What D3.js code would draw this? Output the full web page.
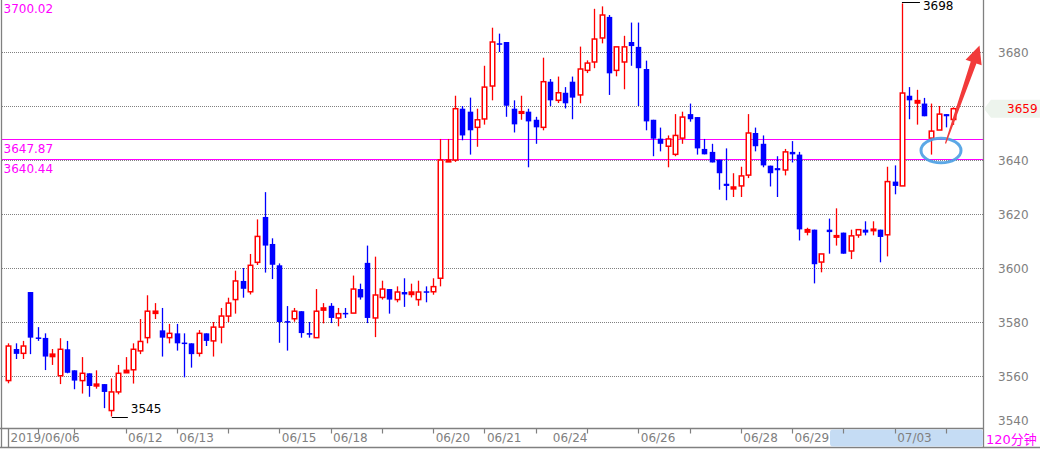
<!DOCTYPE html>
<html><head><meta charset="utf-8">
<script src="https://cdn.jsdelivr.net/npm/d3@7/dist/d3.min.js"></script>
<style>
html,body{margin:0;padding:0;background:#fff;}
svg{display:block;}
text{font-family:"DejaVu Sans","Noto Sans CJK SC",sans-serif;}
</style></head>
<body>
<svg id="c" width="1040" height="449"></svg>
<script>
// ---- data ----
const openV = [3558.3,3570.0,3568.4,3591.1,3574.2,3574.1,3567.2,3560.1,3569.9,3562.1,
3558.3,3561.0,3556.3,3557.0,3547.2,3554.1,3561.2,3562.3,3569.3,3574.2,
3583.2,3576.9,3574.2,3575.8,3572.2,3572.1,3568.4,3575.8,3573.0,3578.1,
3582.2,3588.3,3595.2,3591.2,3602.1,3618.9,3608.9,3601.0,3580.1,3581.2,
3584.0,3575.9,3574.2,3584.4,3586.0,3581.5,3583.2,3583.3,3592.2,3601.9,
3581.5,3589.1,3592.2,3588.3,3591.1,3590.2,3588.3,3591.2,3591.2,3596.2,
3639.3,3640.0,3659.0,3657.9,3652.1,3655.2,3667.4,3683.0,3683.7,3659.0,
3657.3,3657.9,3654.9,3652.1,3669.0,3662.1,3664.9,3669.0,3664.1,3673.2,
3676.3,3685.2,3693.0,3673.2,3676.3,3683.7,3681.9,3673.7,3654.9,3647.9,
3645.1,3642.1,3648.1,3657.0,3655.9,3644.1,3643.0,3640.1,3631.2,3629.3,
3630.4,3634.4,3650.0,3646.0,3637.9,3637.0,3636.3,3643.0,3642.0,3613.3,
3614.2,3602.2,3614.2,3611.5,3613.1,3606.3,3612.2,3614.2,3614.0,3614.2,
3612.3,3632.0,3630.4,3663.8,3661.1,3660.9,3648.1,3651.1,3657.0,3655.0];
const highV = [3572.1,3572.1,3573.0,3591.1,3578.1,3575.8,3570.0,3574.0,3573.0,3562.1,
3567.0,3561.0,3562.1,3557.0,3559.1,3564.1,3567.0,3572.1,3581.1,3589.9,
3587.0,3585.2,3579.3,3579.3,3575.8,3572.1,3577.0,3575.8,3580.0,3585.2,
3589.0,3599.0,3600.0,3605.2,3618.0,3628.1,3611.0,3601.7,3585.9,3585.2,
3584.0,3580.0,3592.2,3587.0,3587.0,3585.2,3585.2,3597.2,3594.2,3608.3,
3604.2,3595.3,3592.2,3593.2,3596.2,3594.2,3595.3,3593.2,3596.2,3647.8,
3647.8,3663.8,3660.0,3663.1,3659.0,3674.9,3689.0,3686.8,3683.7,3662.1,
3663.8,3659.0,3656.0,3677.9,3670.0,3670.9,3667.0,3670.9,3682.0,3676.9,
3696.0,3696.9,3693.7,3681.9,3686.0,3690.9,3690.9,3676.8,3654.9,3652.0,
3649.1,3657.0,3657.9,3660.9,3655.9,3647.8,3646.0,3640.1,3644.3,3635.1,
3637.5,3657.0,3652.0,3649.1,3637.9,3641.4,3644.1,3647.0,3643.0,3614.9,
3614.2,3605.2,3618.3,3622.1,3613.1,3614.2,3614.2,3617.3,3617.3,3614.2,
3637.5,3638.0,3698.0,3667.0,3666.0,3663.0,3660.9,3660.0,3657.0,3659.5];
const lowV = [3557.3,3566.3,3566.3,3568.1,3573.0,3562.2,3564.1,3557.0,3561.0,3555.1,
3553.5,3552.3,3555.3,3548.1,3545.0,3553.2,3561.2,3557.2,3568.1,3572.1,
3581.1,3567.2,3572.1,3569.4,3559.5,3563.1,3567.2,3571.1,3567.2,3572.1,
3580.0,3583.1,3589.0,3590.2,3601.1,3598.3,3595.9,3572.3,3569.4,3580.1,
3574.2,3574.2,3574.2,3579.5,3579.6,3578.4,3581.5,3583.3,3588.3,3579.6,
3574.4,3588.3,3583.1,3587.3,3585.6,3589.1,3586.0,3587.3,3590.1,3593.2,
3639.3,3639.3,3647.3,3642.0,3644.9,3653.1,3662.1,3680.0,3656.0,3650.2,
3654.9,3637.3,3646.0,3651.0,3660.0,3661.1,3659.1,3655.1,3661.0,3672.2,
3674.0,3683.2,3664.1,3671.0,3666.2,3674.9,3660.0,3651.0,3641.4,3643.2,
3637.3,3641.4,3646.0,3654.2,3642.0,3642.1,3639.1,3629.0,3625.1,3626.3,
3626.3,3633.3,3643.2,3637.3,3630.2,3626.3,3634.3,3639.1,3610.2,3612.1,
3594.3,3598.4,3605.3,3608.3,3605.3,3603.3,3611.2,3612.1,3612.1,3602.1,
3604.3,3627.3,3630.4,3655.1,3653.1,3656.2,3642.0,3651.1,3652.1,3653.0];
const closeV = [3571.1,3568.2,3571.1,3574.2,3573.8,3567.2,3568.1,3569.9,3561.2,3558.3,
3561.0,3556.3,3557.0,3554.1,3554.1,3561.0,3562.1,3569.9,3572.8,3584.0,
3584.0,3574.2,3575.8,3572.1,3572.0,3568.1,3575.8,3573.0,3578.1,3582.2,
3587.0,3595.2,3592.3,3601.0,3611.7,3608.3,3601.2,3580.0,3580.0,3584.0,
3575.9,3575.3,3584.0,3585.2,3581.5,3583.1,3583.0,3592.2,3589.1,3581.5,
3590.0,3592.2,3588.3,3591.1,3590.2,3591.1,3591.1,3591.0,3593.1,3640.0,
3640.0,3659.0,3649.1,3651.0,3654.9,3667.0,3683.7,3682.9,3660.1,3653.2,
3657.9,3654.3,3652.1,3669.0,3662.1,3664.9,3661.0,3663.1,3673.7,3675.9,
3684.8,3693.7,3672.1,3681.9,3681.9,3682.2,3674.0,3654.3,3647.9,3646.0,
3647.8,3649.1,3655.9,3655.1,3644.3,3642.1,3639.1,3635.1,3630.4,3630.0,
3634.1,3650.0,3645.1,3638.0,3635.1,3636.2,3643.0,3642.1,3614.3,3614.2,
3601.4,3605.2,3613.3,3611.9,3605.3,3611.9,3614.2,3613.1,3614.2,3611.5,
3632.0,3630.4,3664.8,3662.1,3662.0,3656.2,3650.7,3657.0,3656.2,3659.0];

const yTickValues = [3540, 3560, 3580, 3600, 3620, 3640, 3680];
const gridValues = [3560, 3580, 3600, 3620, 3640, 3660, 3680];
const refLines = [3647.87, 3640.44];
const topLabel = "3700.02";
const lastPrice = 3659;
const dateTickIdx = [4, 9, 16, 23, 30, 37, 44, 51, 58, 65, 72, 79, 86, 93, 100, 107, 114, 121, 128];
const dateLabelIdx = [16, 23, 37, 44, 58, 65, 74, 86, 100, 107, 121];
const dateLabels = ["06/12", "06/13", "06/15", "06/18", "06/20", "06/21", "06/24", "06/26", "06/28", "06/29", "07/03"];
const firstDate = "2019/06/06";
const periodLabel = "120分钟";
const lowMark = {i: 14, v: 3545, t: "3545"};
const highMark = {i: 122, v: 3698, t: "3698"};

// ---- chart ----
const W = 1040, H = 449;
const plotR = 983.5, axisY = 428.5;
const svg = d3.select("#c");
const n = openV.length;
const x = d3.scaleLinear().domain([0, 133]).range([8.3, 8.3 + 133 * 7.325]);
const y = d3.scaleLinear().domain([3540, 3700]).range([430, -2]);
const GRAY = "#808080", RED = "#ff0000", BLUE = "#0000ff", MAG = "#ff00ff";

// gridlines
svg.append("g").selectAll("line").data(gridValues).join("line")
  .attr("x1", 2).attr("x2", plotR)
  .attr("y1", d => Math.round(y(d)) + 0.5).attr("y2", d => Math.round(y(d)) + 0.5)
  .attr("stroke", GRAY).attr("stroke-dasharray", "1,1").attr("stroke-width", 1);

// reference lines
svg.append("g").selectAll("line").data(refLines).join("line")
  .attr("x1", 2).attr("x2", plotR)
  .attr("y1", d => Math.round(y(d)) + 0.5).attr("y2", d => Math.round(y(d)) + 0.5)
  .attr("stroke", MAG).attr("stroke-width", 1.2);
svg.append("g").selectAll("text").data(refLines).join("text")
  .attr("x", 3.5).attr("y", d => Math.round(y(d)) + 14)
  .attr("fill", MAG).attr("font-size", 12).text(d => d.toFixed(2));
svg.append("text").attr("x", 3.5).attr("y", 12.5).attr("fill", MAG)
  .attr("font-size", 12).text(topLabel);

// candles
const idx = d3.range(n);
const cg = svg.append("g");
cg.selectAll("line.w").data(idx).join("line").attr("class", "w")
  .attr("x1", i => Math.round(x(i)) + 0.5).attr("x2", i => Math.round(x(i)) + 0.5)
  .attr("y1", i => y(highV[i])).attr("y2", i => y(lowV[i]))
  .attr("stroke", i => closeV[i] >= openV[i] ? RED : BLUE).attr("stroke-width", 1.3);
cg.selectAll("rect.b").data(idx).join("rect").attr("class", "b")
  .attr("x", i => Math.round(x(i)) + 0.5 - (closeV[i] >= openV[i] ? 2.25 : 2.75))
  .attr("width", i => closeV[i] >= openV[i] ? 4.5 : 5.5)
  .attr("y", i => {
    const t = y(Math.max(openV[i], closeV[i])), b = y(Math.min(openV[i], closeV[i]));
    return b - t < 1.5 ? (t + b) / 2 - 0.75 : t;
  })
  .attr("height", i => Math.max(1.5, Math.abs(y(openV[i]) - y(closeV[i]))))
  .attr("fill", i => {
    if (closeV[i] < openV[i]) return BLUE;
    return Math.abs(y(openV[i]) - y(closeV[i])) < 2.5 ? RED : "#fff";
  })
  .attr("stroke", i => closeV[i] >= openV[i] ? RED : BLUE)
  .attr("stroke-width", i => closeV[i] >= openV[i] ? 1.5 : 0);

// high/low annotations
{
  const lx = x(lowMark.i), ly = y(lowMark.v);
  svg.append("line").attr("x1", lx + 1).attr("x2", lx + 17).attr("y1", Math.round(ly) + 0.5).attr("y2", Math.round(ly) + 0.5)
    .attr("stroke", "#000").attr("stroke-width", 1);
  svg.append("text").attr("x", lx + 20).attr("y", ly - 3.5).attr("font-size", 12).attr("fill", "#000").text(lowMark.t);
  const hx = x(highMark.i), hy = y(highMark.v);
  svg.append("line").attr("x1", hx).attr("x2", hx + 18).attr("y1", Math.round(hy) - 0.5).attr("y2", Math.round(hy) - 0.5)
    .attr("stroke", "#000").attr("stroke-width", 1);
  svg.append("text").attr("x", hx + 21).attr("y", hy + 6.5).attr("font-size", 12).attr("fill", "#000").text(highMark.t);
}

// frame
svg.append("line").attr("x1", 1.5).attr("x2", 1.5).attr("y1", 0).attr("y2", 447.5).attr("stroke", GRAY).attr("stroke-width", 1.3);
svg.append("line").attr("x1", plotR).attr("x2", plotR).attr("y1", 0).attr("y2", 448).attr("stroke", GRAY).attr("stroke-width", 1.3);
svg.append("line").attr("x1", 0).attr("x2", plotR).attr("y1", axisY).attr("y2", axisY).attr("stroke", GRAY).attr("stroke-width", 1.3);
svg.append("line").attr("x1", 0).attr("x2", W).attr("y1", 447.5).attr("y2", 447.5).attr("stroke", GRAY).attr("stroke-width", 1.3);

// right axis
svg.append("g").selectAll("text").data(yTickValues).join("text")
  .attr("x", 998).attr("y", d => Math.min(y(d), 420) + 4.5)
  .attr("fill", GRAY).attr("font-size", 12).text(d => d);
{
  const py = y(lastPrice);
  svg.append("path").attr("d", `M984,${py} L991,${py - 9} L1040,${py - 9} L1040,${py + 9} L991,${py + 9} Z`)
    .attr("fill", "#edf4ed");
  svg.append("text").attr("x", 1007).attr("y", py + 4.5).attr("fill", RED).attr("font-size", 12).text(lastPrice);
}

// bottom axis
svg.append("rect").attr("x", 830).attr("y", 429.5).attr("width", plotR - 830.5).attr("height", 17).attr("rx", 3)
  .attr("fill", "#c5dcf4");
svg.append("line").attr("x1", 8.5).attr("x2", 8.5).attr("y1", axisY).attr("y2", 447.5).attr("stroke", GRAY).attr("stroke-width", 1.3);
svg.append("text").attr("x", 10.5).attr("y", 441.5).attr("fill", GRAY).attr("font-size", 12).text(firstDate);
const tg = svg.append("g");
tg.selectAll("line").data(dateTickIdx).join("line")
  .attr("x1", i => Math.round(x(i)) + 0.5).attr("x2", i => Math.round(x(i)) + 0.5)
  .attr("y1", axisY).attr("y2", axisY + 5).attr("stroke", GRAY).attr("stroke-width", 1.2);
tg.selectAll("text").data(dateLabelIdx).join("text")
  .attr("x", i => x(i) + 2.5).attr("y", 441.5).attr("fill", GRAY).attr("font-size", 12)
  .text((i, k) => dateLabels[k]);
svg.append("text").attr("x", 986).attr("y", 444).attr("fill", MAG).attr("font-size", 13).text(periodLabel);

// annotation: ellipse + arrow
svg.append("ellipse").attr("cx", 941).attr("cy", 150.5).attr("rx", 20).attr("ry", 12.3)
  .attr("fill", "none").attr("stroke", "#4a9fe3").attr("stroke-width", 3).attr("opacity", 0.9);
{
  const tail = [945.5, 143.5], tip = [979.5, 45.5];
  const dx = tip[0] - tail[0], dy = tip[1] - tail[1], L = Math.hypot(dx, dy);
  const ux = dx / L, uy = dy / L, nx = -uy, ny = ux;
  const bd = L - 18;
  const bx = tail[0] + ux * bd, by = tail[1] + uy * bd;
  const P = (px, py) => `${px},${py}`;
  const pts = [
    P(tail[0] + nx * 0.6, tail[1] + ny * 0.6),
    P(bx + nx * 3, by + ny * 3),
    P(bx + nx * 8.5, by + ny * 8.5),
    P(tip[0], tip[1]),
    P(bx - nx * 8.5, by - ny * 8.5),
    P(bx - nx * 3, by - ny * 3),
    P(tail[0] - nx * 0.6, tail[1] - ny * 0.6)
  ];
  svg.append("polygon").attr("points", pts.join(" ")).attr("fill", "#f23a3a");
}
</script>
</body></html>
